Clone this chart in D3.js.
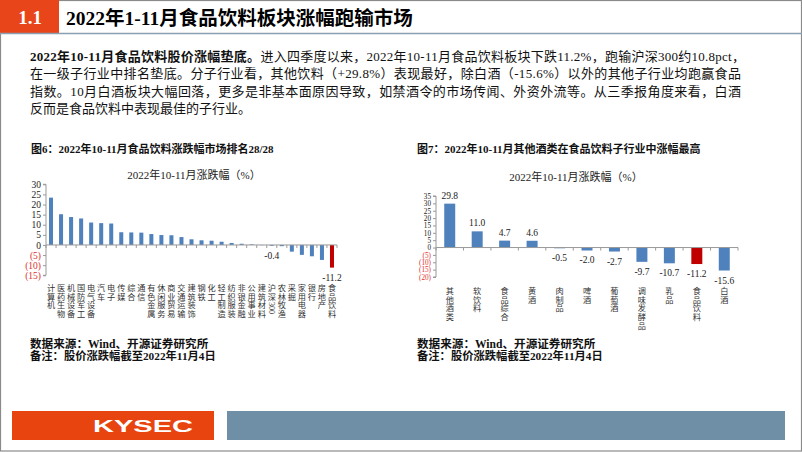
<!DOCTYPE html>
<html><head><meta charset="utf-8">
<script src="https://cdn.jsdelivr.net/npm/d3@7"></script>
<style>
body{margin:0;padding:0;background:#fff;}
svg{display:block;}
</style></head><body>
<svg id="c" width="802" height="452"></svg>
<script>
// ---------- data ----------
const leftCategories = ["计算机","医药生物","机械设备","国防军工","电气设备","汽车","电子","传媒","综合","通信","有色金属","休闲服务","商业贸易","交通运输","建筑装饰","钢铁","化工","轻工制造","纺织服装","非银金融","公用事业","建筑材料","沪深300","农林牧渔","采掘","家用电器","银行","房地产","食品饮料"];
const leftValues = [23.4,15.2,13.8,13.1,11.1,10.8,10.6,6.3,6.2,6.1,5.4,4.9,4.8,3.9,2.8,2.3,2.1,1.6,1.0,0.6,0.3,-0.1,-0.4,-0.6,-3.3,-4.9,-5.6,-7.4,-11.2];
const leftLabeled = ["沪深300","食品饮料"];
const leftTicks = [30,25,20,15,10,5,0,-5,-10,-15];

const rightCategories = ["其他酒类","软饮料","食品综合","黄酒","肉制品","啤酒","葡萄酒","调味发酵品","乳品","食品饮料","白酒"];
const rightValues = [29.8,11.0,4.7,4.6,-0.5,-2.0,-2.7,-9.7,-10.7,-11.2,-15.6];
const rightTicks = [35,30,25,20,15,10,5,0,-5,-10,-15,-20];
const highlight = "食品饮料";

const BLUE = "#4F81BD", RED = "#C00000", ORANGE = "#E8461A", STEEL = "#6F8FA6";
const SERIF = '"Liberation Serif","Times New Roman","Noto Sans CJK SC",serif';
const svg = d3.select("#c").style("font-family", SERIF);

// ---------- frame ----------
svg.append("rect").attr("x",0.5).attr("y",0.5).attr("width",801).attr("height",450.5)
  .attr("fill","none").attr("stroke","#8a8a8a").attr("stroke-width",1.2);
svg.append("rect").attr("x",0).attr("y",0).attr("width",59).attr("height",33).attr("fill",ORANGE);
svg.append("line").attr("x1",0).attr("x2",802).attr("y1",33.5).attr("y2",33.5)
  .attr("stroke","#8aa0b0").attr("stroke-width",1.5);
svg.append("text").attr("x",30).attr("y",24).attr("text-anchor","middle")
  .attr("fill","#fff").attr("font-weight","bold").attr("font-size",19).text("1.1");
svg.append("text").attr("x",66).attr("y",24.5).attr("fill","#000").attr("font-weight","bold")
  .attr("font-size",19.5).text("2022年1-11月食品饮料板块涨幅跑输市场");

// ---------- paragraph ----------
const para = svg.append("g").attr("font-size",13).attr("fill","#111");
const l1 = para.append("text").attr("x",30).attr("y",61).attr("textLength",715).attr("lengthAdjust","spacing");
l1.append("tspan").attr("font-weight","bold").text("2022年10-11月食品饮料股价涨幅垫底。");
l1.append("tspan").text("进入四季度以来，2022年10-11月食品饮料板块下跌11.2%，跑输沪深300约10.8pct，");
para.append("text").attr("x",30).attr("y",78).attr("textLength",711).attr("lengthAdjust","spacing")
  .text("在一级子行业中排名垫底。分子行业看，其他饮料（+29.8%）表现最好，除白酒（-15.6%）以外的其他子行业均跑赢食品");
para.append("text").attr("x",30).attr("y",95.5).attr("textLength",711).attr("lengthAdjust","spacing")
  .text("指数。10月白酒板块大幅回落，更多是非基本面原因导致，如禁酒令的市场传闻、外资外流等。从三季报角度来看，白酒");
para.append("text").attr("x",30).attr("y",113).text("反而是食品饮料中表现最佳的子行业。");

// ---------- helpers ----------
function verticalLabel(g, label, x, y0, step, size){
  const tokens = label.match(/[A-Za-z0-9.]+|./g);
  let y = y0;
  tokens.forEach(t=>{
    if(/^[A-Za-z0-9.]+$/.test(t)){
      const len = t.length*size*0.5;
      g.append("text").attr("transform",`translate(${x-size*0.33},${y - step*0.5 + 1}) rotate(90)`)
        .attr("font-size",size).attr("fill","#333").text(t);
      y += len + 1;
    } else {
      g.append("text").attr("x",x).attr("y",y+size*0.38).attr("text-anchor","middle")
        .attr("font-size",size).attr("fill","#333").text(t);
      y += step;
    }
  });
}

function drawChart(opt){
  const g = svg.append("g");
  const x = d3.scaleBand().domain(opt.cats).range(opt.xr).paddingInner(opt.pad).paddingOuter(opt.pad/2);
  const y = d3.scaleLinear().domain(opt.yd).range(opt.yr);
  // bars
  g.selectAll("rect.bar").data(opt.vals).enter().append("rect")
    .attr("x",(d,i)=>x(opt.cats[i]))
    .attr("width",x.bandwidth())
    .attr("y",d=>y(Math.max(0,d)))
    .attr("height",d=>Math.abs(y(d)-y(0)))
    .attr("fill",(d,i)=>opt.cats[i]===highlight?RED:BLUE);
  // y axis
  const ya = d3.axisLeft(y).tickValues(opt.ticks).tickSize(3)
    .tickFormat(d=> d<0 ? "("+(-d)+")" : d);
  const yg = g.append("g").attr("transform",`translate(${opt.xr[0]},0)`).call(ya)
    .attr("font-family",SERIF);
  yg.select(".domain").attr("stroke","#999").attr("d",`M-3,${y(opt.yd[1])}H0V${y(opt.yd[0])}H-3`);
  yg.selectAll(".tick line").attr("stroke","#999");
  yg.selectAll(".tick text").attr("font-size",opt.yfs)
    .attr("x",-5).attr("fill",d=>d<0?"#E03030":"#222");
  // x axis line at zero
  g.append("line").attr("x1",opt.xr[0]).attr("x2",opt.xr[1]).attr("y1",y(0)).attr("y2",y(0))
    .attr("stroke","#999").attr("stroke-width",1);
  const step = x.step();
  d3.range(opt.cats.length+1).forEach(i=>{
    const xx = opt.xr[0] + i*step;
    g.append("line").attr("x1",xx).attr("x2",xx).attr("y1",y(0)).attr("y2",y(0)+3).attr("stroke","#999");
  });
  // data labels
  opt.vals.forEach((d,i)=>{
    if(opt.labelSet && !opt.labelSet.includes(opt.cats[i])) return;
    const cx = x(opt.cats[i])+x.bandwidth()/2;
    const ly = d>=0 ? y(d)-5 : y(d)+opt.negOff;
    g.append("text").attr("x",cx).attr("y",ly).attr("text-anchor","middle")
      .attr("font-size",opt.lfs).attr("fill","#222").text(d.toFixed(1));
  });
  // category labels
  opt.cats.forEach(c=>{
    verticalLabel(g, c, x(c)+x.bandwidth()/2, opt.labY, opt.labStep, opt.labFs);
  });
  // subtitle
  g.append("text").attr("x",opt.subX).attr("y",opt.subY).attr("text-anchor","middle")
    .attr("font-size",11).attr("fill","#222").text("2022年10-11月涨跌幅（%）");
}

drawChart({cats:leftCategories, vals:leftValues, xr:[46,337], yd:[-15,30], yr:[275.3,184.3],
  pad:0.6, ticks:leftTicks, yfs:9.5, lfs:9.5, negOff:13.5, labelSet:leftLabeled,
  labY:288, labStep:8.6, labFs:8.2, subX:194, subY:179});

drawChart({cats:rightCategories, vals:rightValues, xr:[436,738], yd:[-20,35], yr:[277,196],
  pad:0.6, ticks:rightTicks, yfs:7.2, lfs:9.5, negOff:13, labelSet:null,
  labY:291, labStep:8.6, labFs:8.2, subX:576, subY:181});

// ---------- figure titles & notes ----------
const notes = svg.append("g").attr("font-weight","bold").attr("fill","#111");
notes.append("text").attr("x",31).attr("y",153).attr("font-size",11).text("图6：2022年10-11月食品饮料涨跌幅市场排名28/28");
notes.append("text").attr("x",417).attr("y",153).attr("font-size",11).text("图7：2022年10-11月其他酒类在食品饮料子行业中涨幅最高");
[[30,348],[417,348]].forEach(p=>{
  notes.append("text").attr("x",p[0]).attr("y",p[1]).attr("font-size",11.6).text("数据来源：Wind、开源证券研究所");
  notes.append("text").attr("x",p[0]).attr("y",p[1]+11.5).attr("font-size",11.3).text("备注：股价涨跌幅截至2022年11月4日");
});

// ---------- footer ----------
svg.append("rect").attr("x",12).attr("y",411).attr("width",202).attr("height",29).attr("fill","#E8440F");
svg.append("rect").attr("x",227).attr("y",411).attr("width",558).attr("height",29).attr("fill",STEEL);
svg.append("text").attr("x",143).attr("y",432).attr("text-anchor","middle").attr("fill","#fff")
  .style("font-family","'Liberation Sans',Arial,sans-serif").attr("font-weight","bold").attr("font-size",17)
  .attr("textLength",100).attr("lengthAdjust","spacingAndGlyphs").text("KYSEC");
</script></body></html>
